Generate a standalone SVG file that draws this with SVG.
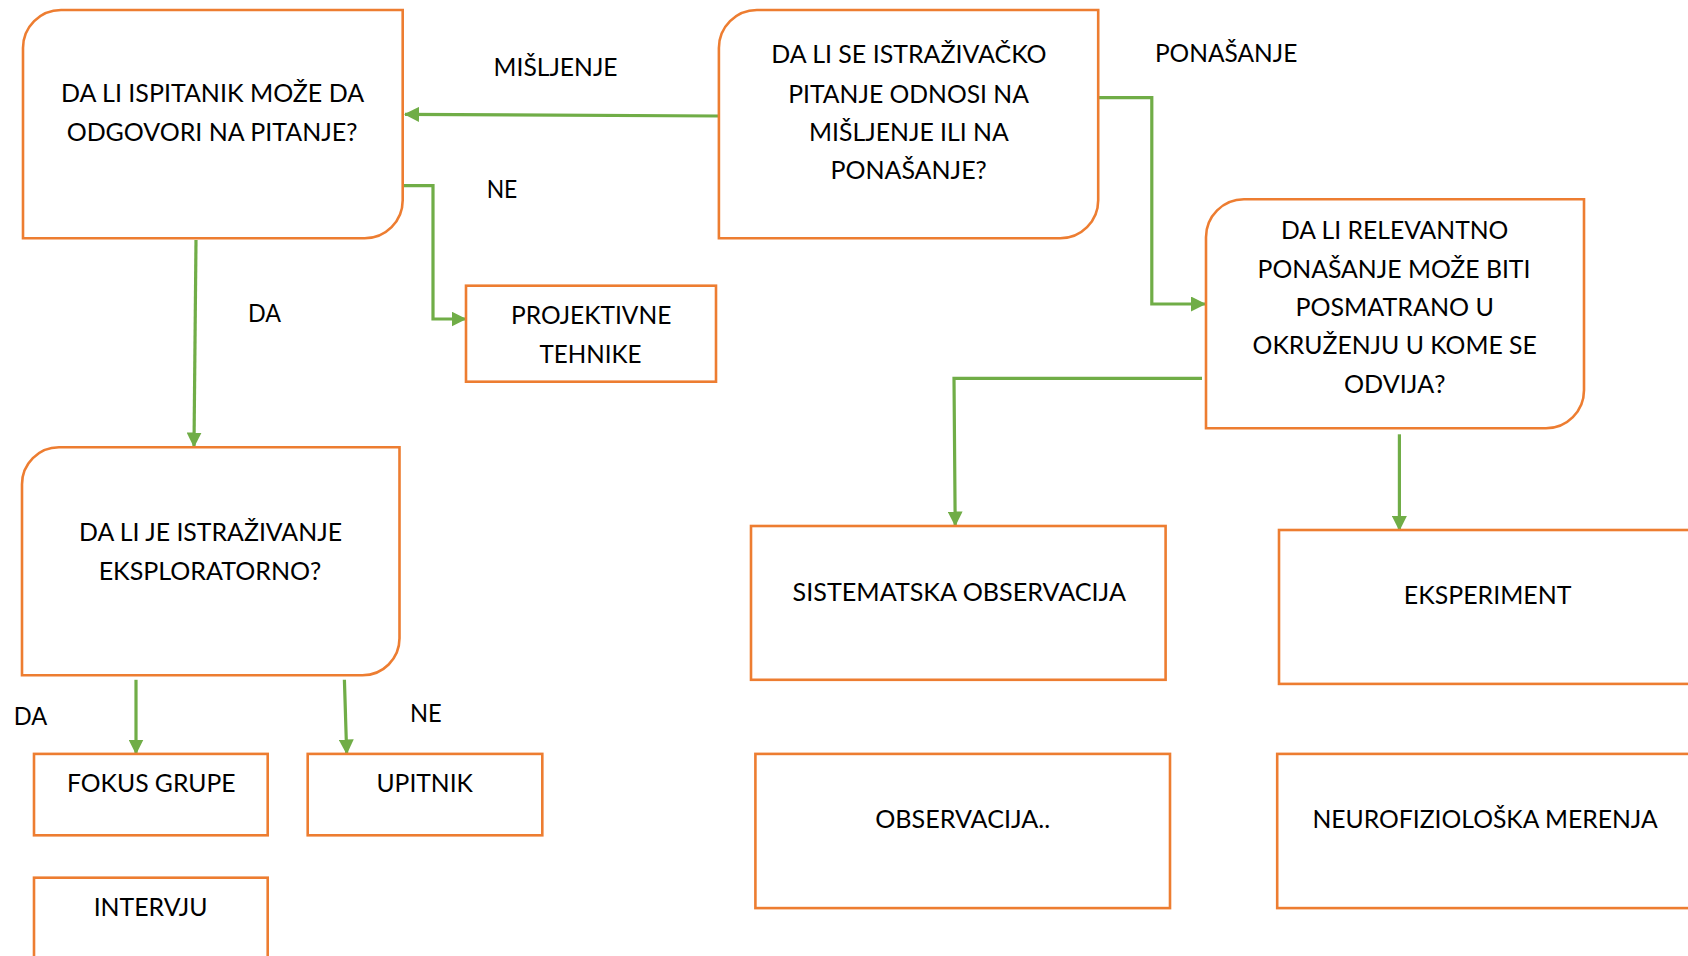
<svg xmlns="http://www.w3.org/2000/svg" width="1688" height="956" viewBox="0 0 1688 956">
  <style>
    .box { fill: #ffffff; stroke: #ED7D31; stroke-width: 2.6; }
    .link { fill: none; stroke: #70AD47; stroke-width: 3.2; marker-end: url(#head); }
    text { font-family: Lato, "Open Sans", "Liberation Sans", sans-serif; font-size: 25.5px; fill: #000000; text-anchor: middle; }
  </style>
  <defs>
    <marker id="head" markerUnits="userSpaceOnUse" markerWidth="15" markerHeight="15" viewBox="0 0 15 15" refX="14" refY="7.5" orient="auto">
      <path d="M0,0 L15,7.5 L0,15 Z" fill="#70AD47"/>
    </marker>
  </defs>

  <rect width="1688" height="956" fill="#ffffff"/>

  <!-- connectors -->
  <g id="connectors">
    <path class="link" d="M718.6,116 L405,114.3"/>
    <path class="link" d="M402.7,185.7 H433 V319 H465.5"/>
    <path class="link" d="M196,240 L194,446.5"/>
    <path class="link" d="M1098.2,97.7 H1151.8 V304 H1205"/>
    <path class="link" d="M1202,378.3 H954 L955.2,525.5"/>
    <path class="link" d="M1399.4,434.3 V530"/>
    <path class="link" d="M136,679.8 V753.5"/>
    <path class="link" d="M344.4,679.8 L346.7,753.5"/>
  </g>

  <!-- edge labels -->
  <g id="labels">
    <text x="555.6" y="76" textLength="124" lengthAdjust="spacingAndGlyphs">MIŠLJENJE</text>
    <text x="502" y="198" textLength="30.7" lengthAdjust="spacingAndGlyphs">NE</text>
    <text x="1226.1" y="61.7" textLength="142.4" lengthAdjust="spacingAndGlyphs">PONAŠANJE</text>
    <text x="264.5" y="321.7" textLength="33" lengthAdjust="spacingAndGlyphs">DA</text>
    <text x="30.5" y="725.2" textLength="33.5" lengthAdjust="spacingAndGlyphs">DA</text>
    <text x="425.9" y="721.8" textLength="31.7" lengthAdjust="spacingAndGlyphs">NE</text>
  </g>

  <g id="q-ispitanik">
    <path class="box" d="M23,48 A38,38 0 0 1 61,10 H402.7 V200.3 A38,38 0 0 1 364.7,238.3 H23 Z"/>
    <text x="212.6" y="102.3" textLength="303" lengthAdjust="spacingAndGlyphs">DA LI ISPITANIK MOŽE DA</text>
    <text x="212" y="140.7" textLength="290.7" lengthAdjust="spacingAndGlyphs">ODGOVORI NA PITANJE?</text>
  </g>

  <g id="q-pitanje">
    <path class="box" d="M718.9,48 A38,38 0 0 1 756.9,10 H1098.2 V200.3 A38,38 0 0 1 1060.2,238.3 H718.9 Z"/>
    <text x="908.9" y="63.3" textLength="275.4" lengthAdjust="spacingAndGlyphs">DA LI SE ISTRAŽIVAČKO</text>
    <text x="908.6" y="102.7" textLength="240.7" lengthAdjust="spacingAndGlyphs">PITANJE ODNOSI NA</text>
    <text x="908.9" y="140.7" textLength="199.7" lengthAdjust="spacingAndGlyphs">MIŠLJENJE ILI NA</text>
    <text x="908.6" y="179.3" textLength="156.3" lengthAdjust="spacingAndGlyphs">PONAŠANJE?</text>
  </g>

  <g id="projektivne">
    <rect class="box" x="466" y="285.7" width="250" height="96"/>
    <text x="591.2" y="324.3" textLength="160.3" lengthAdjust="spacingAndGlyphs">PROJEKTIVNE</text>
    <text x="590.5" y="363.3" textLength="101.9" lengthAdjust="spacingAndGlyphs">TEHNIKE</text>
  </g>

  <g id="q-ponasanje">
    <path class="box" d="M1206,237.3 A38,38 0 0 1 1244,199.3 H1584 V390.3 A38,38 0 0 1 1546,428.3 H1206 Z"/>
    <text x="1394.7" y="239.3" textLength="227.4" lengthAdjust="spacingAndGlyphs">DA LI RELEVANTNO</text>
    <text x="1394" y="277.7" textLength="272.9" lengthAdjust="spacingAndGlyphs">PONAŠANJE MOŽE BITI</text>
    <text x="1394.7" y="316" textLength="198.6" lengthAdjust="spacingAndGlyphs">POSMATRANO U</text>
    <text x="1394.7" y="354.3" textLength="284.2" lengthAdjust="spacingAndGlyphs">OKRUŽENJU U KOME SE</text>
    <text x="1394.7" y="393.3" textLength="101.4" lengthAdjust="spacingAndGlyphs">ODVIJA?</text>
  </g>

  <g id="q-eksploratorno">
    <path class="box" d="M22,484.3 A37,37 0 0 1 59,447.3 H399.5 V638.3 A37,37 0 0 1 362.5,675.3 H22 Z"/>
    <text x="210.5" y="541.3" textLength="263" lengthAdjust="spacingAndGlyphs">DA LI JE ISTRAŽIVANJE</text>
    <text x="210" y="579.6" textLength="222.7" lengthAdjust="spacingAndGlyphs">EKSPLORATORNO?</text>
  </g>

  <g id="sistematska">
    <rect class="box" x="751" y="526" width="414.6" height="153.8"/>
    <text x="959.3" y="600.5" textLength="333.4" lengthAdjust="spacingAndGlyphs">SISTEMATSKA OBSERVACIJA</text>
  </g>

  <g id="eksperiment">
    <rect class="box" x="1279" y="530" width="417" height="153.9"/>
    <text x="1487.6" y="603.9" textLength="167.6" lengthAdjust="spacingAndGlyphs">EKSPERIMENT</text>
  </g>

  <g id="fokus">
    <rect class="box" x="34" y="753.9" width="233.7" height="81.4"/>
    <text x="151.3" y="791.9" textLength="168.6" lengthAdjust="spacingAndGlyphs">FOKUS GRUPE</text>
  </g>

  <g id="upitnik">
    <rect class="box" x="307.7" y="753.9" width="234.6" height="81.4"/>
    <text x="424.7" y="791.9" textLength="96.5" lengthAdjust="spacingAndGlyphs">UPITNIK</text>
  </g>

  <g id="intervju">
    <rect class="box" x="34" y="877.7" width="233.7" height="110"/>
    <text x="150.6" y="915.6" textLength="113.9" lengthAdjust="spacingAndGlyphs">INTERVJU</text>
  </g>

  <g id="observacija">
    <rect class="box" x="755.4" y="753.9" width="414.6" height="154.2"/>
    <text x="962.7" y="827.8" textLength="175.1" lengthAdjust="spacingAndGlyphs">OBSERVACIJA..</text>
  </g>

  <g id="neurofizioloska">
    <rect class="box" x="1277.2" y="753.9" width="417" height="154.2"/>
    <text x="1485.1" y="827.8" textLength="345.3" lengthAdjust="spacingAndGlyphs">NEUROFIZIOLOŠKA MERENJA</text>
  </g>
</svg>
